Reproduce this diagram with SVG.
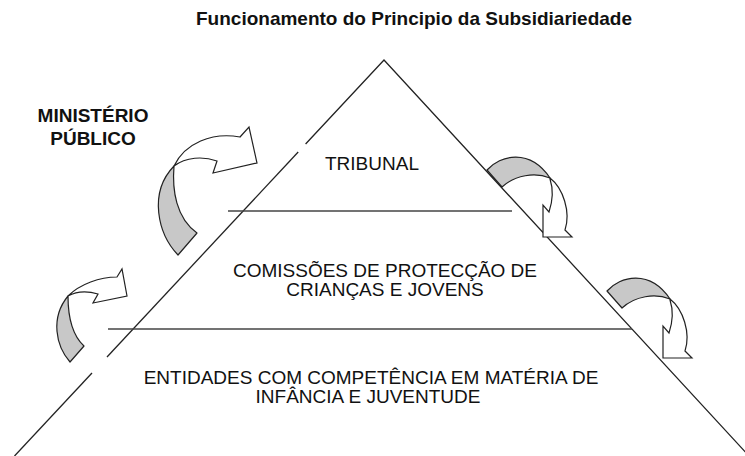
<svg xmlns="http://www.w3.org/2000/svg" width="745" height="456" viewBox="0 0 745 456">
<style>
.t{font-family:"Liberation Sans",Arial,sans-serif;font-size:19px;fill:#111;text-anchor:middle}
.b{font-weight:bold}
.edge{stroke:#222;stroke-width:1.3;fill:none}
.div{stroke:#444;stroke-width:1.6;fill:none}
.sh{fill:#c8c8c8;stroke:#222;stroke-width:1.2;stroke-linejoin:round}
.wh{fill:#fff;stroke:#222;stroke-width:1.2;stroke-linejoin:miter}
</style>
<rect width="745" height="456" fill="#fff"/>
<text class="t b" x="414" y="25">Funcionamento do Principio da Subsidiariedade</text>
<g id="pyramid">
<path class="edge" d="M305.6,144 L384,60 L749,456"/>
<path class="edge" d="M298.2,152 L107,357"/>
<path class="edge" d="M92,373 L14.5,456"/>
</g>
<g id="connectors">
<path class="div" d="M228,211 L512,211"/>
<path class="div" d="M108,329 L632,329"/>
</g>
<g id="tribunal"><text class="t" x="372" y="170">TRIBUNAL</text></g>
<g id="comissoes"><text class="t" x="385" y="277">COMISSÕES DE PROTECÇÃO DE</text><text class="t" x="385" y="296">CRIANÇAS E JOVENS</text></g>
<g id="entidades"><text class="t" x="371" y="384">ENTIDADES COM COMPETÊNCIA EM MATÉRIA DE</text><text class="t" x="368" y="403">INFÂNCIA E JUVENTUDE</text></g>
<g id="ministerio"><text class="t b" x="93" y="122">MINISTÉRIO</text><text class="t b" x="93" y="145">PÚBLICO</text></g>
<g id="arrow-left-1">
<path class="sh" d="M178,255 C158,234 148,193 174,166 C172,190 176,218 197,233 Z"/>
<path class="wh" d="M174,166 C185,143 212,132 240,137 L249,127 L257,163 L213,173 L217,161 C203,156 186,157 174,166 Z"/>
</g>
<g id="arrow-left-2">
<path class="sh" d="M70,362 C56,346 50,318 68,296 C68,318 72,335 84,346 Z"/>
<path class="wh" d="M68,296 C80,284 100,277 117,277 L122,269 L127,296 L93,303 L98,294 C88,291 77,291 68,296 Z"/>
</g>
<g id="arrow-right-1">
<path class="sh" d="M487,170 C500,155 530,148 550,178 C535,172 515,175 502,187 Z"/>
<path class="wh" d="M550,178 C563,188 571,212 565,230 L572,237 L543,237 L543,205 L549,212 C553,200 553,188 550,179 Z"/>
</g>
<g id="arrow-right-2" transform="translate(120,121)">
<path class="sh" d="M487,170 C500,155 530,148 550,178 C535,172 515,175 502,187 Z"/>
<path class="wh" d="M550,178 C563,188 571,212 565,230 L572,237 L543,237 L543,205 L549,212 C553,200 553,188 550,179 Z"/>
</g>
</svg>
